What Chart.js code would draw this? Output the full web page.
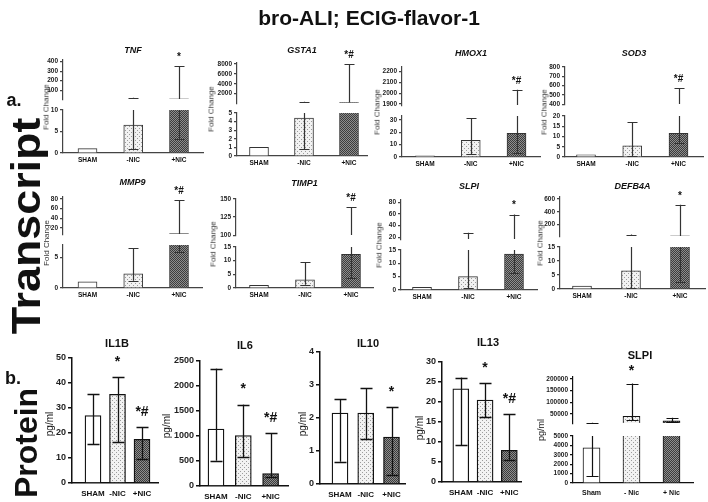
<!DOCTYPE html>
<html>
<head>
<meta charset="utf-8">
<script src="https://cdn.jsdelivr.net/npm/chart.js@4.4.1/dist/chart.umd.min.js"></script>
<style>
  body { margin: 0; background: #fff; }
  #fig { position: relative; width: 708px; height: 502px; overflow: hidden; background: #fff;
         font-family: 'Liberation Sans', Arial, sans-serif; }
  #fig canvas { position: absolute; }
  .t { position: absolute; white-space: nowrap; transform: translate(-50%, -50%); color: #111; line-height: 1; }
</style>
</head>
<body>
<div id="fig"></div>
<script>
// ---- groups ----
const GROUPS = ['SHAM', '-NIC', '+NIC'];
const GROUPS_SLPI_P = ['Sham', '- Nic', '+ Nic'];

// ---- transcript (fold change): bar height, bottom and top of error bar, marks ----
const TNF_MEAN = [1, 6.5, 12];
const TNF_LOW = [null, 0.9, 3.2];
const TNF_HIGH = [null, 21, 350];
const TNF_MARK = ['', '', '*'];
const TNF_TICKS_LO = [0, 5, 10];
const TNF_TICKS_HI = [100, 200, 300, 400];

const GSTA1_MEAN = [1, 4.4, 200];
const GSTA1_LOW = [null, 0.8, null];
const GSTA1_HIGH = [null, 350, 7900];
const GSTA1_MARK = ['', '', '*#'];
const GSTA1_TICKS_LO = [0, 1, 2, 3, 4, 5];
const GSTA1_TICKS_HI = [2000, 4000, 6000, 8000];

const HMOX1_MEAN = [1, 13.5, 19];
const HMOX1_LOW = [null, 2.5, 3.5];
const HMOX1_HIGH = [null, 31, 2030];
const HMOX1_MARK = ['', '', '*#'];
const HMOX1_TICKS_LO = [0, 10, 20, 30];
const HMOX1_TICKS_HI = [1900, 2000, 2100, 2200];

const SOD3_MEAN = [1, 5.5, 11.5];
const SOD3_LOW = [null, 0.5, 7];
const SOD3_HIGH = [null, 17, 570];
const SOD3_MARK = ['', '', '*#'];
const SOD3_TICKS_LO = [0, 5, 10, 15, 20];
const SOD3_TICKS_HI = [400, 500, 600, 700, 800];

const MMP9_MEAN = [1, 2.3, 8];
const MMP9_LOW = [null, 1.2, 5.8];
const MMP9_HIGH = [null, 6.5, 78];
const MMP9_MARK = ['', '', '*#'];
const MMP9_TICKS_LO = [0, 5];
const MMP9_TICKS_HI = [20, 40, 60, 80];

const TIMP1_MEAN = [1, 3, 12.3];
const TIMP1_LOW = [null, 1.2, 3.7];
const TIMP1_HIGH = [null, 9.5, 139];
const TIMP1_MARK = ['', '', '*#'];
const TIMP1_TICKS_LO = [0, 5, 10, 15];
const TIMP1_TICKS_HI = [100, 125, 150];

const SLPI_T_MEAN = [1, 5, 13.5];
const SLPI_T_LOW = [null, 0.7, 6.3];
const SLPI_T_HIGH = [null, 28, 59];
const SLPI_T_MARK = ['', '', '*'];
const SLPI_T_TICKS_LO = [0, 5, 10, 15];
const SLPI_T_TICKS_HI = [20, 40, 60, 80];

const DEFB4A_MEAN = [1, 6.5, 20];
const DEFB4A_LOW = [null, 0.2, 2.5];
const DEFB4A_HIGH = [null, 40, 510];
const DEFB4A_MARK = ['', '', '*'];
const DEFB4A_TICKS_LO = [0, 5, 10, 15];
const DEFB4A_TICKS_HI = [200, 400, 600];

// ---- protein (pg/ml) ----
const IL1B_MEAN = [27, 35.5, 17.5];
const IL1B_LOW = [15.5, 16.5, 9.5];
const IL1B_HIGH = [35.5, 42.5, 22.3];
const IL1B_MARK = ['', '*', '*#'];
const IL1B_TICKS = [0, 10, 20, 30, 40, 50];

const IL6_MEAN = [1140, 1010, 250];
const IL6_LOW = [510, 580, 180];
const IL6_HIGH = [2350, 1630, 1055];
const IL6_MARK = ['', '*', '*#'];
const IL6_TICKS = [0, 500, 1000, 1500, 2000, 2500];

const IL10_MEAN = [2.15, 2.15, 1.42];
const IL10_LOW = [0.68, 1.35, 0.28];
const IL10_HIGH = [2.57, 2.92, 2.33];
const IL10_MARK = ['', '', '*'];
const IL10_TICKS = [0, 1, 2, 3, 4];

const IL13_MEAN = [23.3, 20.5, 7.9];
const IL13_LOW = [9.2, 16.3, 5.6];
const IL13_HIGH = [26.1, 24.8, 17];
const IL13_MARK = ['', '*', '*#'];
const IL13_TICKS = [0, 5, 10, 15, 20, 25, 30];

const SLPI_P_MEAN = [3750, 40000, 20000];
const SLPI_P_LOW = [700, 22000, 16000];
const SLPI_P_HIGH = [11500, 180000, 33000];
const SLPI_P_MARK = ['', '*', ''];
const SLPI_P_TICKS_LO = [0, 1000, 2000, 3000, 4000, 5000];
const SLPI_P_TICKS_HI = [50000, 100000, 150000, 200000];

// ---- drawing ----
const FONT = "'Liberation Sans', Arial, sans-serif";
const fig = document.getElementById('fig');

function makePattern(size, bg, fg, pts) {
  const c = document.createElement('canvas');
  c.width = c.height = size;
  const g = c.getContext('2d');
  g.fillStyle = bg; g.fillRect(0, 0, size, size);
  g.fillStyle = fg;
  pts.forEach(([x, y]) => g.fillRect(x, y, 1, 1));
  return g.createPattern(c, 'repeat');
}
const FILLS = [
  '#ffffff',
  makePattern(4, '#f2f2f2', '#9c9c9c', [[0, 0], [2, 2]]),
  makePattern(2, '#8e8e8e', '#3c3c3c', [[0, 0], [1, 1]]),
];

const ST_T = { yW: 32, xH: 14, axis: '#444', axisW: 1.2, tickLen: 3, yFont: 6.5, xFont: 6.5, xPad: 3,
  barW: 19, barBW: 1, edge: '#333', errW: 1.2, err: '#333', cap: 5, markSize: 10, markGap: 9 };
const ST_P = { yW: 32, xH: 18, axis: '#111', axisW: 1.5, tickLen: 4, yFont: 9, xFont: 8, xPad: 6,
  barW: 16, barBW: 1.3, edge: '#111', errW: 1.3, err: '#111', cap: 6, markSize: 14, markGap: 15 };
const ST_S = Object.assign({}, ST_P, { yFont: 6.5, xFont: 7, axisW: 1.2, tickLen: 3, barW: 17, barBW: 1,
  errW: 1.2, cap: 6, markGap: 12 });

function addText(str, x, y, css) {
  const d = document.createElement('div');
  d.className = 't';
  d.textContent = str;
  d.style.left = x + 'px';
  d.style.top = y + 'px';
  Object.assign(d.style, css);
  fig.appendChild(d);
}

// one axis segment of a panel, drawn as its own chart
function drawSegment(p, seg, top, bottom, withX, st) {
  const W = st.yW, padTop = 22, padR = 3;
  const xH = withX ? st.xH : 0;
  const cv = document.createElement('canvas');
  cv.width = W + (p.axisR - p.axisL) + padR;
  cv.height = padTop + (bottom - top) + (withX ? xH : 2);
  cv.style.left = (p.axisL - W) + 'px';
  cv.style.top = (top - padTop) + 'px';
  fig.appendChild(cv);

  const xmin = -(p.c0 - p.axisL) / p.step;
  const xmax = 2 + (p.axisR - p.c0 - 2 * p.step) / p.step;
  const inSeg = v => v != null && v >= seg.min && v <= seg.max;
  const data = p.mean.map((v, i) => ({ x: i, y: (withX || v > seg.min) ? v : null }));

  const errBars = {
    id: 'errBars',
    afterDatasetsDraw(chart) {
      const ctx = chart.ctx, xs = chart.scales.x, ys = chart.scales.y;
      ctx.save();
      ctx.strokeStyle = st.err;
      ctx.lineWidth = st.errW;
      p.mean.forEach((m, i) => {
        const hi = p.high[i];
        if (hi == null) return;
        const lo = p.low[i] == null ? m : p.low[i];
        const x = Math.round(xs.getPixelForValue(i)) + 0.5;
        const a = Math.max(lo, seg.min), b = Math.min(hi, seg.max);
        ctx.beginPath();
        if (a < b) {
          ctx.moveTo(x, ys.getPixelForValue(a));
          ctx.lineTo(x, ys.getPixelForValue(b));
        }
        [hi, p.low[i]].forEach(v => {
          if (!inSeg(v)) return;
          const y = Math.round(ys.getPixelForValue(v)) + 0.5;
          ctx.moveTo(x - st.cap, y);
          ctx.lineTo(x + st.cap, y);
        });
        ctx.stroke();
      });
      ctx.fillStyle = '#111';
      ctx.font = `bold ${st.markSize}px ${FONT}`;
      ctx.textAlign = 'center';
      ctx.textBaseline = 'middle';
      p.mark.forEach((s, i) => {
        if (!s) return;
        const ref = p.high[i] != null ? p.high[i] : p.mean[i];
        if (!inSeg(ref)) return;
        ctx.fillText(s, xs.getPixelForValue(i), ys.getPixelForValue(ref) - st.markGap);
      });
      ctx.restore();
    }
  };

  new Chart(cv, {
    type: 'bar',
    data: {
      datasets: [{
        data,
        backgroundColor: FILLS,
        borderColor: st.edge,
        borderWidth: st.barBW,
        barThickness: st.barW,
      }],
    },
    options: {
      responsive: false,
      animation: false,
      events: [],
      layout: { padding: { top: padTop, right: padR, left: 0, bottom: withX ? 0 : 2 } },
      plugins: { legend: { display: false }, tooltip: { enabled: false } },
      scales: {
        x: {
          type: 'linear', min: xmin, max: xmax, display: withX, offset: false,
          grid: { display: false, drawTicks: false, offset: false },
          border: { display: true, color: st.axis, width: st.axisW },
          afterBuildTicks: s => { s.ticks = [0, 1, 2].map(v => ({ value: v })); },
          afterFit: s => { s.height = xH; },
          ticks: {
            callback: v => p.groups[v],
            font: { family: FONT, size: st.xFont, weight: 'bold' },
            color: '#111', padding: st.xPad, maxRotation: 0, autoSkip: false,
          },
        },
        y: {
          min: seg.min, max: seg.max,
          afterBuildTicks: s => { s.ticks = seg.ticks.map(v => ({ value: v })); },
          afterFit: s => { s.width = W; },
          grid: { drawOnChartArea: false, tickLength: st.tickLen, color: st.axis, lineWidth: st.axisW },
          border: { color: st.axis, width: st.axisW },
          ticks: {
            callback: v => String(v),
            font: { family: FONT, size: st.yFont, weight: 'bold' },
            color: '#222', padding: 2, autoSkip: false,
          },
        },
      },
    },
    plugins: [errBars],
  });
}

function transcriptPanel(p) {
  p.groups = GROUPS;
  drawSegment(p, p.hi, p.hiTop, p.hiBot, false, ST_T);
  drawSegment(p, p.lo, p.loTop, p.loBot, true, ST_T);
  addText(p.name, (p.axisL + p.axisR) / 2, p.titleY, { font: `italic bold 9px ${FONT}` });
  addText('Fold Change', p.labX, (p.hiTop + p.loBot) / 2,
    { font: `8px ${FONT}`, transform: 'translate(-50%, -50%) rotate(-90deg)', color: '#333' });
}

function proteinPanel(p, st) {
  p.groups = p.groups || GROUPS;
  if (p.hi) drawSegment(p, p.hi, p.hiTop, p.hiBot, false, st);
  drawSegment(p, p.lo, p.loTop, p.loBot, true, st);
  addText(p.name, p.titleX, p.titleY, { font: `bold 11px ${FONT}` });
  addText('pg/ml', p.labX, p.labY, { font: `${p.labSize}px ${FONT}`, transform: 'translate(-50%, -50%) rotate(-90deg)' });
}

// ---- transcript row 1 ----
transcriptPanel({ name: 'TNF', mean: TNF_MEAN, low: TNF_LOW, high: TNF_HIGH, mark: TNF_MARK,
  lo: { min: 0, max: 10, ticks: TNF_TICKS_LO }, hi: { min: 8, max: 416, ticks: TNF_TICKS_HI },
  axisL: 63, axisR: 203, c0: 87.5, step: 45.75, hiTop: 60, hiBot: 103, loTop: 110, loBot: 153, titleY: 50, labX: 46 });
transcriptPanel({ name: 'GSTA1', mean: GSTA1_MEAN, low: GSTA1_LOW, high: GSTA1_HIGH, mark: GSTA1_MARK,
  lo: { min: 0, max: 5, ticks: GSTA1_TICKS_LO }, hi: { min: 100, max: 8180, ticks: GSTA1_TICKS_HI },
  axisL: 237, axisR: 367, c0: 259, step: 45, hiTop: 63, hiBot: 107, loTop: 112.5, loBot: 155.5, titleY: 50, labX: 211 });
transcriptPanel({ name: 'HMOX1', mean: HMOX1_MEAN, low: HMOX1_LOW, high: HMOX1_HIGH, mark: HMOX1_MARK,
  lo: { min: 0, max: 33, ticks: HMOX1_TICKS_LO }, hi: { min: 1890, max: 2240, ticks: HMOX1_TICKS_HI },
  axisL: 402, axisR: 540, c0: 425, step: 45.75, hiTop: 67, hiBot: 109, loTop: 116, loBot: 157, titleY: 53, labX: 377 });
transcriptPanel({ name: 'SOD3', mean: SOD3_MEAN, low: SOD3_LOW, high: SOD3_HIGH, mark: SOD3_MARK,
  lo: { min: 0, max: 20, ticks: SOD3_TICKS_LO }, hi: { min: 400, max: 800, ticks: SOD3_TICKS_HI },
  axisL: 565, axisR: 703, c0: 586, step: 46.25, hiTop: 67, hiBot: 108, loTop: 116, loBot: 157, titleY: 53, labX: 544 });

// ---- transcript row 2 ----
transcriptPanel({ name: 'MMP9', mean: MMP9_MEAN, low: MMP9_LOW, high: MMP9_HIGH, mark: MMP9_MARK,
  lo: { min: 0, max: 7, ticks: MMP9_TICKS_LO }, hi: { min: 7, max: 84, ticks: MMP9_TICKS_HI },
  axisL: 63, axisR: 202, c0: 87.5, step: 45.75, hiTop: 197, hiBot: 238, loTop: 245, loBot: 288, titleY: 182, labX: 46 });
transcriptPanel({ name: 'TIMP1', mean: TIMP1_MEAN, low: TIMP1_LOW, high: TIMP1_HIGH, mark: TIMP1_MARK,
  lo: { min: 0, max: 15, ticks: TIMP1_TICKS_LO }, hi: { min: 100, max: 150, ticks: TIMP1_TICKS_HI },
  axisL: 236, axisR: 373, c0: 259, step: 46, hiTop: 199, hiBot: 239, loTop: 246.5, loBot: 288, titleY: 183, labX: 213 });
transcriptPanel({ name: 'SLPI', mean: SLPI_T_MEAN, low: SLPI_T_LOW, high: SLPI_T_HIGH, mark: SLPI_T_MARK,
  lo: { min: 0, max: 15, ticks: SLPI_T_TICKS_LO }, hi: { min: 17, max: 84, ticks: SLPI_T_TICKS_HI },
  axisL: 401, axisR: 537, c0: 422, step: 46, hiTop: 200, hiBot: 243, loTop: 250, loBot: 290, titleY: 186, labX: 379 });
transcriptPanel({ name: 'DEFB4A', mean: DEFB4A_MEAN, low: DEFB4A_LOW, high: DEFB4A_HIGH, mark: DEFB4A_MARK,
  lo: { min: 0, max: 15, ticks: DEFB4A_TICKS_LO }, hi: { min: 15, max: 633, ticks: DEFB4A_TICKS_HI },
  axisL: 560, axisR: 705, c0: 582, step: 49, hiTop: 197, hiBot: 240, loTop: 247, loBot: 289, titleY: 186, labX: 540 });

// ---- protein row ----
proteinPanel({ name: 'IL1B', mean: IL1B_MEAN, low: IL1B_LOW, high: IL1B_HIGH, mark: IL1B_MARK,
  lo: { min: 0, max: 50, ticks: IL1B_TICKS },
  axisL: 72, axisR: 158, c0: 93, step: 24.5, loTop: 358, loBot: 483,
  titleX: 117, titleY: 343, labX: 49, labY: 424, labSize: 10 }, ST_P);
proteinPanel({ name: 'IL6', mean: IL6_MEAN, low: IL6_LOW, high: IL6_HIGH, mark: IL6_MARK,
  lo: { min: 0, max: 2500, ticks: IL6_TICKS },
  axisL: 200, axisR: 288, c0: 216, step: 27.3, loTop: 361, loBot: 486,
  titleX: 245, titleY: 345, labX: 166, labY: 426, labSize: 10 }, ST_P);
proteinPanel({ name: 'IL10', mean: IL10_MEAN, low: IL10_LOW, high: IL10_HIGH, mark: IL10_MARK,
  lo: { min: 0, max: 4, ticks: IL10_TICKS },
  axisL: 320, axisR: 405, c0: 340, step: 25.75, loTop: 352, loBot: 484,
  titleX: 368, titleY: 343, labX: 302, labY: 424, labSize: 10 }, ST_P);
proteinPanel({ name: 'IL13', mean: IL13_MEAN, low: IL13_LOW, high: IL13_HIGH, mark: IL13_MARK,
  lo: { min: 0, max: 30, ticks: IL13_TICKS },
  axisL: 442, axisR: 522, c0: 461, step: 24.5, loTop: 362, loBot: 482,
  titleX: 488, titleY: 342, labX: 419, labY: 428, labSize: 10 }, ST_P);
proteinPanel({ name: 'SLPI', groups: GROUPS_SLPI_P, mean: SLPI_P_MEAN, low: SLPI_P_LOW, high: SLPI_P_HIGH, mark: SLPI_P_MARK,
  lo: { min: 0, max: 5000, ticks: SLPI_P_TICKS_LO }, hi: { min: 10500, max: 208000, ticks: SLPI_P_TICKS_HI },
  axisL: 573, axisR: 693, c0: 591.5, step: 40, hiTop: 377, hiBot: 427, loTop: 436, loBot: 483,
  titleX: 640, titleY: 355, labX: 541, labY: 430, labSize: 9 }, ST_S);

// ---- figure labels ----
addText('bro-ALI; ECIG-flavor-1', 369, 18, { font: `bold 21px ${FONT}` });
addText('a.', 14, 100, { font: `bold 18px ${FONT}` });
addText('Transcript', 26, 226, { font: `bold 40px ${FONT}`, transform: 'translate(-50%, -50%) rotate(-90deg) scaleX(1.12)' });
addText('b.', 13, 378, { font: `bold 18px ${FONT}` });
addText('Protein', 26, 443, { font: `bold 32px ${FONT}`, transform: 'translate(-50%, -50%) rotate(-90deg)' });
</script>
</body>
</html>
